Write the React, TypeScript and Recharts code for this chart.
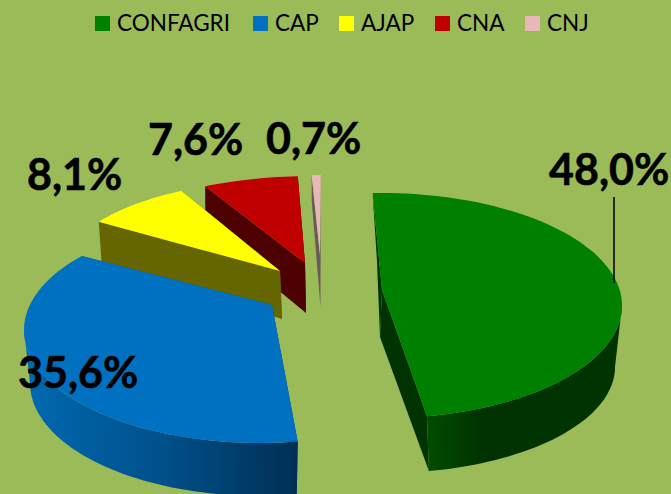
import { PieChart, Pie, Legend } from "recharts"

const categories = ["CONFAGRI", "CAP", "AJAP", "CNA", "CNJ"]
const shares = [48.0, 35.6, 8.1, 7.6, 0.7]
const topColors = ["#008000", "#0070c0", "#ffff00", "#c00000", "#e6b9b8"]
const sideColors = ["#003300", "#004a80", "#666600", "#4d0000", "#6b5a5a"]

// the original is a 3D exploded pie, so every slice gets its own projected ellipses
const topEllipses = [
  { ex: 381, ey: 305.7, rx: 241, ry: 112.7, ax: 382, ay: 290 },
  { ex: 260, ey: 330, rx: 236, ry: 113, ax: 272, ay: 305 },
  { ex: 307, ey: 263, rx: 238, ry: 85, ax: 280, ay: 271 },
  { ex: 314, ey: 244, rx: 206, ry: 68, ax: 305, ay: 263 },
  { ex: 328, ey: 243, rx: 207, ry: 68, ax: 320, ay: 255 },
]
const bottomEllipses = [
  { ex: 385, ey: 367, rx: 230, ry: 106, ax: 380, ay: 337 },
  { ex: 260, ey: 383, rx: 230, ry: 113, ax: 272, ay: 305 },
  { ex: 308, ey: 303, rx: 236, ry: 85, ax: 282, ay: 319 },
  { ex: 311, ey: 288, rx: 200, ry: 68, ax: 306, ay: 313 },
  { ex: 328, ey: 268, rx: 207, ry: 68, ax: 320.5, ay: 307 },
]
// perspective makes the apparent angle differ a bit from the true one
const endNudge = [-1.8, 12, 0, 0, 0]
const startNudge = [0, 0, 0, 0, 0]

const labelSpots = [
  { x: 549, y: 185 },
  { x: 18, y: 388 },
  { x: 27, y: 190 },
  { x: 148, y: 155 },
  { x: 266, y: 154 },
]

const legendSwatchLefts = [95, 253, 339, 435, 525]

// drawn back to front so the near slices cover the far ones
const tableData = categories
  .map((name, i) => ({ name, value: shares[i] }))
  .reverse()

const rimPoint = (e: any, deg: number) => {
  const r = (deg * Math.PI) / 180
  return [e.ex + e.rx * Math.sin(r), e.ey - e.ry * Math.cos(r)]
}

const rimPoints = (e: any, from: number, to: number) => {
  const n = Math.max(2, Math.ceil(Math.abs(to - from) / 2))
  const pts = []
  for (let k = 0; k <= n; k++) pts.push(rimPoint(e, from + ((to - from) * k) / n))
  return pts
}

const toPath = (pts: number[][]) =>
  "M" + pts.map((p) => `${p[0].toFixed(1)},${p[1].toFixed(1)}`).join("L") + "Z"

const SliceShape = (props: any) => {
  const name = props.name ?? props.payload?.name
  const i = categories.indexOf(name)
  const top = topEllipses[i]
  const bot = bottomEllipses[i]
  const a1 = 90 - Math.max(props.startAngle, props.endAngle) + startNudge[i]
  const a2 = 90 - Math.min(props.startAngle, props.endAngle) + endNudge[i]
  const t1 = rimPoint(top, a1)
  const t2 = rimPoint(top, a2)
  const b1 = rimPoint(bot, a1)
  const b2 = rimPoint(bot, a2)
  const apex = [top.ax, top.ay]
  const apexB = [bot.ax, bot.ay]
  const wallFrom = Math.max(a1, 90)
  const wallTo = Math.min(a2, 270)
  return (
    <g>
      <path d={toPath([apex, t2, b2, apexB])} fill={sideColors[i]} />
      <path d={toPath([apex, t1, b1, apexB])} fill={sideColors[i]} />
      {wallFrom < wallTo && (
        <path
          d={toPath([
            ...rimPoints(top, wallFrom, wallTo),
            ...rimPoints(bot, wallTo, wallFrom),
          ])}
          fill={`url(#wall${i})`}
        />
      )}
      <path d={toPath([apex, ...rimPoints(top, a1, a2)])} fill={topColors[i]} />
    </g>
  )
}

const SliceLabel = (props: any) => {
  const name = props.name ?? props.payload?.name
  const i = categories.indexOf(name)
  const spot = labelSpots[i]
  return (
    <g>
      {i === 0 && <line x1={614} y1={197} x2={614} y2={283} stroke="#000" strokeWidth={1.5} />}
      <text
        x={spot.x}
        y={spot.y}
        fontFamily="Lato"
        fontWeight={700}
        fontSize={43}
        fill="#000"
        stroke="#000"
        strokeWidth={0.6}
        textAnchor="start"
      >
        {shares[i].toFixed(1).replace(".", ",")}%
      </text>
    </g>
  )
}

const LegendRow = () => (
  <div style={{ position: "relative", height: 24, fontFamily: "Lato", fontSize: 22.5, color: "#000", lineHeight: "24px" }}>
    {categories.map((c, i) => (
      <div key={c} style={{ position: "absolute", left: legendSwatchLefts[i], top: 0, display: "flex", alignItems: "center", whiteSpace: "nowrap" }}>
        <span style={{ width: 15, height: 15, background: topColors[i], marginRight: 7 }} />
        <span>{c}</span>
      </div>
    ))}
  </div>
)

const App = () => {
  return (
    <div style={{ position: "absolute", left: 0, top: 0, width: 671, height: 494, background: "#9bbb59", overflow: "hidden" }}>
      <PieChart width={671} height={494} margin={{ top: 0, right: 0, bottom: 0, left: 0 }}>
        <defs>
          <linearGradient id="wall0" gradientUnits="userSpaceOnUse" x1={427} y1={0} x2={480} y2={0}>
            <stop offset="0" stopColor="#004d00" />
            <stop offset="1" stopColor="#003300" />
          </linearGradient>
          <linearGradient id="wall1" gradientUnits="userSpaceOnUse" x1={30} y1={0} x2={298} y2={0}>
            <stop offset="0" stopColor="#0068b0" />
            <stop offset="0.5" stopColor="#00508a" />
            <stop offset="1" stopColor="#002f55" />
          </linearGradient>
        </defs>
        <Legend
          content={<LegendRow />}
          verticalAlign="top"
          wrapperStyle={{ top: 11, left: 0, width: 671 }}
        />
        <Pie
          data={tableData}
          dataKey="value"
          nameKey="name"
          cx={335}
          cy={300}
          outerRadius={200}
          startAngle={-268}
          endAngle={92}
          stroke="none"
          shape={SliceShape}
          label={SliceLabel}
          labelLine={false}
          isAnimationActive={false}
        />
      </PieChart>
    </div>
  )
}

export default App
